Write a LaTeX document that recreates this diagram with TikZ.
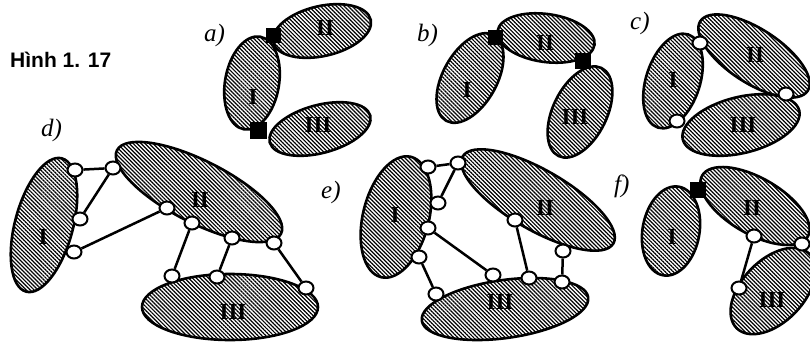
\documentclass[tikz,border=0pt]{standalone}
\usepackage{fontspec}
\setmainfont{Liberation Serif}
\newfontfamily\captfont{Liberation Sans}
\usetikzlibrary{shapes.geometric,patterns.meta}
\begin{document}
\begin{tikzpicture}[x=1pt,y=-1pt,
  blob/.style={ellipse, draw, line width=2.6pt, inner sep=0pt,
    pattern={Lines[angle=-45,distance=2.8pt,line width=1.2pt]}},
  joint/.style={ellipse, draw, fill=white, line width=2pt, minimum width=15pt, minimum height=13pt, inner sep=0pt},
  blk/.style={rectangle, fill=black, minimum size=15pt, inner sep=0pt},
  link/.style={line width=2.5pt},
  num/.style={font=\bfseries\fontsize{23}{23}\selectfont, inner sep=0pt},
  tag/.style={font=\itshape\fontsize{25}{25}\selectfont, anchor=base west, inner sep=0pt}]
\useasboundingbox (0,0) rectangle (810,343);
% caption
\node[font=\captfont\bfseries\fontsize{21}{21}\selectfont, anchor=base west, inner sep=0pt] (cap) at (10,67) {Hình 1. 17};
% tags
\node[tag] (ta) at (204,41) {a)};
\node[tag] (tb) at (417,41) {b)};
\node[tag] (tc) at (630,29) {c)};
\node[tag] (td) at (41,136) {d)};
\node[tag] (te) at (321,198) {e)};
\node[tag] (tf) at (614,192) {f)};
% a)
\node[blob, minimum width=94pt, minimum height=54pt, rotate=80] (aI) at (252,83) {};
\node[blob, minimum width=100pt, minimum height=50pt, rotate=13] (aII) at (322,31) {};
\node[blob, minimum width=104pt, minimum height=48pt, rotate=15] (aIII) at (320,129) {};
\node[num] (laI) at (253,97) {I};
\node[num] (laII) at (325,28) {II};
\node[num] (laIII) at (318,125) {III};
\node[blk] (as1) at (273,35) {};
\node[blk, minimum size=17pt] (as2) at (258,130) {};
% b)
\node[blob, minimum width=98pt, minimum height=54pt, rotate=61] (bI) at (470,78) {};
\node[blob, minimum width=98pt, minimum height=48pt, rotate=-8] (bII) at (546,38) {};
\node[blob, minimum width=98pt, minimum height=54pt, rotate=64] (bIII) at (580,112) {};
\node[num] (lbI) at (467,90) {I};
\node[num] (lbII) at (545,43) {II};
\node[num] (lbIII) at (575,117) {III};
\node[blk] (bs1) at (495,37) {};
\node[blk, minimum size=16pt] (bs2) at (583,61) {};
% c)
\node[blob, minimum width=98pt, minimum height=54pt, rotate=72] (cI) at (673,81) {};
\node[blob, minimum width=128pt, minimum height=54pt, rotate=-33] (cII) at (754,56) {};
\node[blob, minimum width=120pt, minimum height=56pt, rotate=14] (cIII) at (741,125) {};
\node[num] (lcI) at (673,80) {I};
\node[num] (lcII) at (755,55) {II};
\node[num] (lcIII) at (743,125) {III};
\node[joint] (c1) at (700,43) {};
\node[joint] (c2) at (786,94) {};
\node[joint] (c3) at (677,121) {};
% d)
\node[blob, minimum width=138pt, minimum height=58pt, rotate=75] (dI) at (44,225) {};
\node[blob, minimum width=184pt, minimum height=62pt, rotate=-27] (dII) at (199,192) {};
\node[blob, minimum width=176pt, minimum height=66pt] (dIII) at (230,307) {};
\node[num] (ldI) at (43,237) {I};
\node[num] (ldII) at (200,200) {II};
\node[num] (ldIII) at (233,312) {III};
\node[joint] (d1) at (75,170) {};
\node[joint] (d2) at (113,168) {};
\node[joint] (d3) at (80,219) {};
\node[joint] (d4) at (74,252) {};
\node[joint] (d5) at (167,208) {};
\node[joint] (d6) at (192,223) {};
\node[joint] (d7) at (232,238) {};
\node[joint] (d8) at (274,243) {};
\node[joint] (d9) at (172,276) {};
\node[joint] (d10) at (217,277) {};
\node[joint] (d11) at (306,288) {};
\draw[link] (d1) -- (d2);
\draw[link] (d2) -- (d3);
\draw[link] (d4) -- (d5);
\draw[link] (d6) -- (d9);
\draw[link] (d7) -- (d10);
\draw[link] (d8) -- (d11);
% e)
\node[blob, minimum width=124pt, minimum height=66pt, rotate=76] (eI) at (396,217) {};
\node[blob, minimum width=174pt, minimum height=60pt, rotate=-30] (eII) at (538,200) {};
\node[blob, minimum width=168pt, minimum height=58pt, rotate=8] (eIII) at (505,309) {};
\node[num] (leI) at (395,215) {I};
\node[num] (leII) at (545,208) {II};
\node[num] (leIII) at (500,302) {III};
\node[joint] (e1) at (428,167) {};
\node[joint] (e2) at (458,163) {};
\node[joint] (e3) at (438,203) {};
\node[joint] (e4) at (428,228) {};
\node[joint] (e5) at (419,257) {};
\node[joint] (e6) at (436,294) {};
\node[joint] (e7) at (493,275) {};
\node[joint] (e8) at (515,220) {};
\node[joint] (e9) at (529,278) {};
\node[joint] (e10) at (563,251) {};
\node[joint] (e11) at (562,282) {};
\draw[link] (e1) -- (e2);
\draw[link] (e2) -- (e3);
\draw[link] (e4) -- (e7);
\draw[link] (e5) -- (e6);
\draw[link] (e8) -- (e9);
\draw[link] (e10) -- (e11);
% f)
\node[blob, minimum width=90pt, minimum height=57pt, rotate=80] (fI) at (671,231) {};
\node[blob, minimum width=122pt, minimum height=56pt, rotate=-30] (fII) at (755,206) {};
\node[blob, minimum width=104pt, minimum height=62pt, rotate=46] (fIII) at (773,291) {};
\node[num] (lfI) at (672,237) {I};
\node[num] (lfII) at (752,208) {II};
\node[num] (lfIII) at (772,300) {III};
\node[blk, minimum size=16pt] (fs1) at (698,190) {};
\node[joint] (f1) at (754,236) {};
\node[joint] (f2) at (802,244) {};
\node[joint] (f3) at (739,288) {};
\draw[link] (f1) -- (f3);
\end{tikzpicture}
\end{document}
